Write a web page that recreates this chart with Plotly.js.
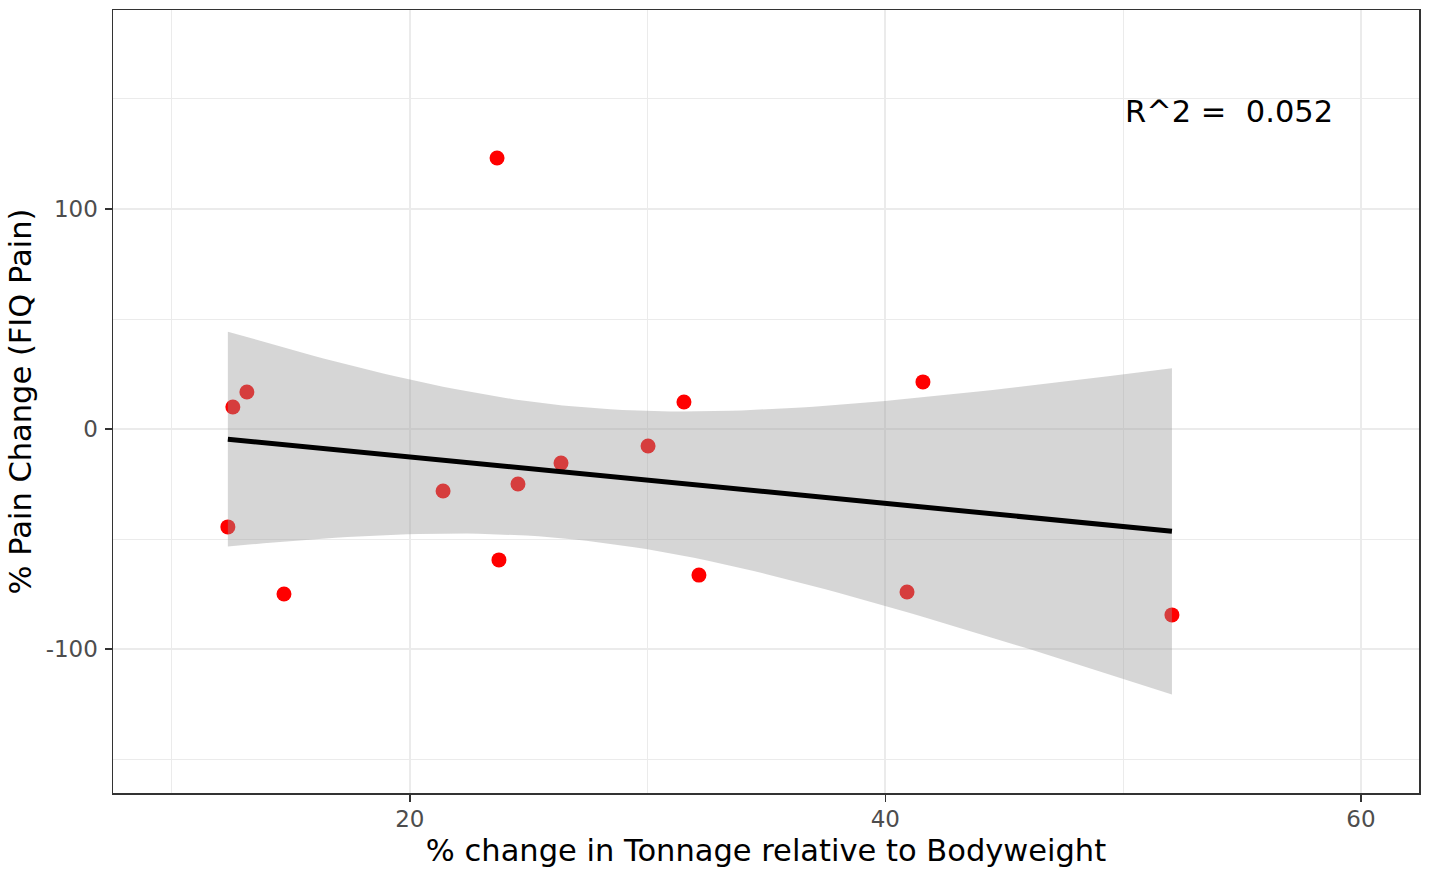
<!DOCTYPE html>
<html>
<head>
<meta charset="utf-8">
<script src="https://cdn.plot.ly/plotly-3.0.1.min.js"></script>
<style>html,body{margin:0;padding:0;background:#fff;}#chart{width:1429px;height:877px;}</style>
</head>
<body>
<div id="chart"></div>
<script>
// Data
const tonnageChange = [12.35, 12.56, 13.15, 14.71, 21.4, 23.67, 23.75, 24.55, 26.36, 30.02, 31.53, 32.16, 40.91, 41.58, 52.05];
const painChange    = [-44.5, 10.0, 16.8, -75.0, -28.2, 123.2, -59.5, -25.0, -15.5, -7.7, 12.3, -66.4, -74.1, 21.4, -84.5];
const xTickVals = [20, 40, 60];
const yTickVals = [-100, 0, 100];
const r2Label = "R^2 =  0.052";
const T_975_DF13 = 2.160369; // t quantile for 95% CI, df = n - 2

// Linear model fit (like ggplot geom_smooth(method = "lm"))
const n = tonnageChange.length;
const mx = tonnageChange.reduce((a, b) => a + b, 0) / n;
const my = painChange.reduce((a, b) => a + b, 0) / n;
let sxx = 0, sxy = 0;
for (let i = 0; i < n; i++) {
  sxx += (tonnageChange[i] - mx) ** 2;
  sxy += (tonnageChange[i] - mx) * (painChange[i] - my);
}
const slope = sxy / sxx;
const intercept = my - slope * mx;
let sse = 0;
for (let i = 0; i < n; i++) sse += (painChange[i] - (intercept + slope * tonnageChange[i])) ** 2;
const s = Math.sqrt(sse / (n - 2));
const xmin = Math.min(...tonnageChange), xmax = Math.max(...tonnageChange);
const fitX = [], fitY = [], upY = [], loY = [];
for (let k = 0; k < 80; k++) {
  const x = xmin + (xmax - xmin) * k / 79;
  const yh = intercept + slope * x;
  const se = s * Math.sqrt(1 / n + (x - mx) ** 2 / sxx);
  fitX.push(x); fitY.push(yh);
  upY.push(yh + T_975_DF13 * se); loY.push(yh - T_975_DF13 * se);
}

const traces = [
  { x: tonnageChange, y: painChange, mode: 'markers', type: 'scatter',
    marker: { color: '#FF0000', size: 15 }, hoverinfo: 'x+y', showlegend: false },
  { x: fitX.concat(fitX.slice().reverse()), y: upY.concat(loY.slice().reverse()),
    type: 'scatter', mode: 'lines', fill: 'toself', fillcolor: 'rgba(153,153,153,0.4)',
    line: { width: 0, color: 'rgba(0,0,0,0)' }, hoverinfo: 'skip', showlegend: false },
  { x: fitX, y: fitY, type: 'scatter', mode: 'lines',
    line: { color: '#000000', width: 5 }, hoverinfo: 'skip', showlegend: false }
];

const font = 'DejaVu Sans, sans-serif';
const layout = {
  width: 1429, height: 877,
  margin: { l: 113, r: 10, t: 10, b: 84 },
  paper_bgcolor: '#ffffff', plot_bgcolor: '#ffffff',
  font: { family: font },
  showlegend: false,
  xaxis: {
    range: [7.52, 62.44], tickvals: xTickVals, ticktext: xTickVals.map(String),
    showgrid: true, gridcolor: '#EBEBEB', gridwidth: 2,
    minor: { tickvals: [10, 30, 50], showgrid: true, gridcolor: '#EBEBEB', gridwidth: 1, ticks: '' },
    zeroline: false, showline: true, mirror: true, linecolor: '#333333', linewidth: 1.5,
    ticks: 'outside', ticklen: 7, tickwidth: 1.5, tickcolor: '#333333',
    ticklabelstandoff: -2,
    tickfont: { family: font, size: 23, color: '#4D4D4D' },
    title: { text: '% change in Tonnage relative to Bodyweight', font: { family: font, size: 30.5, color: '#000000' }, standoff: 8 }
  },
  yaxis: {
    range: [-165.45, 190.45], tickvals: yTickVals, ticktext: yTickVals.map(String),
    showgrid: true, gridcolor: '#EBEBEB', gridwidth: 2,
    minor: { tickvals: [-150, -50, 50, 150], showgrid: true, gridcolor: '#EBEBEB', gridwidth: 1, ticks: '' },
    zeroline: false, showline: true, mirror: true, linecolor: '#333333', linewidth: 1.5,
    ticks: 'outside', ticklen: 7, tickwidth: 1.5, tickcolor: '#333333',
    ticklabelstandoff: 2,
    tickfont: { family: font, size: 23, color: '#4D4D4D' },
    title: { text: '% Pain Change (FIQ Pain)', font: { family: font, size: 30.5, color: '#000000' }, standoff: 5 }
  },
  annotations: [{
    x: 50, y: 144.5, xref: 'x', yref: 'y', text: r2Label, showarrow: false,
    xanchor: 'left', yanchor: 'middle', font: { family: font, size: 30.5, color: '#000000' }
  }]
};

Plotly.newPlot('chart', traces, layout, { displayModeBar: false, staticPlot: true });
</script>
</body>
</html>
